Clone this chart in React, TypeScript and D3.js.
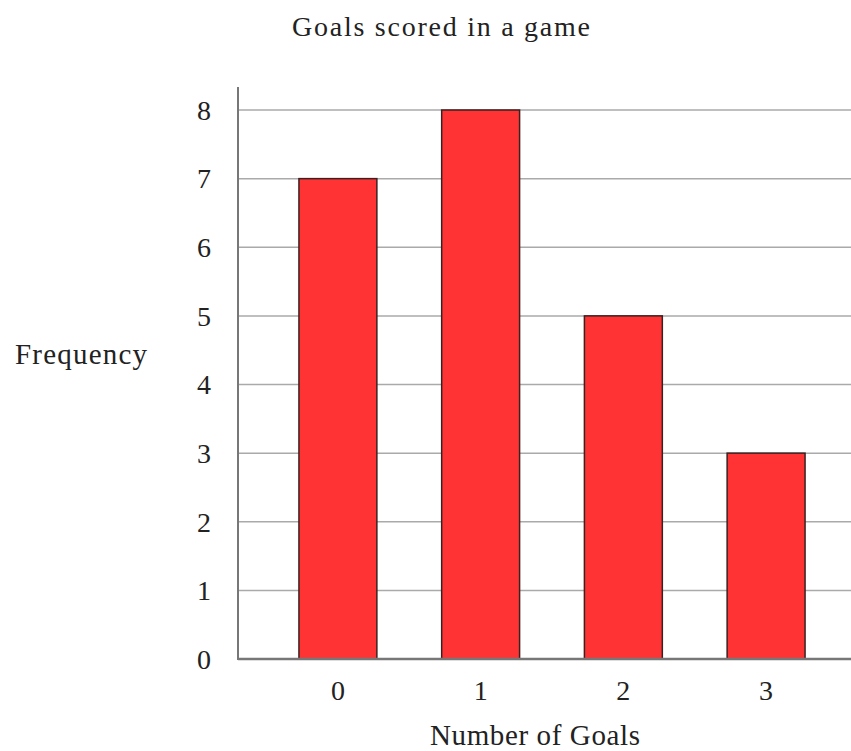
import React from 'react';
import * as d3 from 'd3';

// chart data
const goals = ['0', '1', '2', '3'];
const frequency = [7, 8, 5, 3];
const yTicks = [0, 1, 2, 3, 4, 5, 6, 7, 8];

const title = 'Goals scored in a game';
const xTitle = 'Number of Goals';
const yTitle = 'Frequency';

const App = () => {
    const width = 851;
    const height = 751;

    // plot area (right side runs past the window edge, like the original)
    const left = 238;
    const right = 866;
    const top = 87;
    const bottom = 659;

    const x = d3.scaleBand()
        .domain(goals)
        .range([left, right])
        .paddingInner(0.454)
        .paddingOuter(0.427);

    const y = d3.scaleLinear()
        .domain([0, 8])
        .range([bottom, 110]);

    const font = '"Liberation Serif", "Times New Roman", serif';

    return (
        <div style={{ position: 'absolute', left: 0, top: 0 }}>
            <svg width={width} height={height} style={{ display: 'block', background: '#fff' }} fontFamily={font}>
                {/* grid lines */}
                {yTicks.filter(t => t > 0).map(t => (
                    <line key={t} x1={left} x2={right} y1={y(t)} y2={y(t)} stroke="#aaa" strokeWidth={1.5} />
                ))}

                {/* bars */}
                {goals.map((g, i) => (
                    <rect
                        key={g}
                        x={x(g)}
                        y={y(frequency[i])}
                        width={x.bandwidth()}
                        height={y(0) - y(frequency[i])}
                        fill="#ff3333"
                        stroke="#3a2020"
                        strokeWidth={1.5}
                    />
                ))}

                {/* axes */}
                <line x1={left} x2={left} y1={top} y2={bottom + 1} stroke="#777" strokeWidth={2} />
                <line x1={left} x2={right} y1={bottom} y2={bottom} stroke="#777" strokeWidth={2.5} />

                {/* y tick labels */}
                {yTicks.map(t => (
                    <text key={t} x={204} y={y(t)} dy="0.35em" textAnchor="middle" fontSize={28} fill="#222">{t}</text>
                ))}

                {/* x tick labels */}
                {goals.map(g => (
                    <text key={g} x={x(g) + x.bandwidth() / 2} y={700} textAnchor="middle" fontSize={28} fill="#222">{g}</text>
                ))}

                <text x={441} y={36} textAnchor="middle" fontSize={28} fill="#222" textLength={298} lengthAdjust="spacing">{title}</text>
                <text x={535} y={745} textAnchor="middle" fontSize={29} fill="#222" textLength={210} lengthAdjust="spacing">{xTitle}</text>
                <text x={81} y={364} textAnchor="middle" fontSize={29} fill="#222" textLength={132} lengthAdjust="spacing">{yTitle}</text>
            </svg>
        </div>
    );
};

export default App;
